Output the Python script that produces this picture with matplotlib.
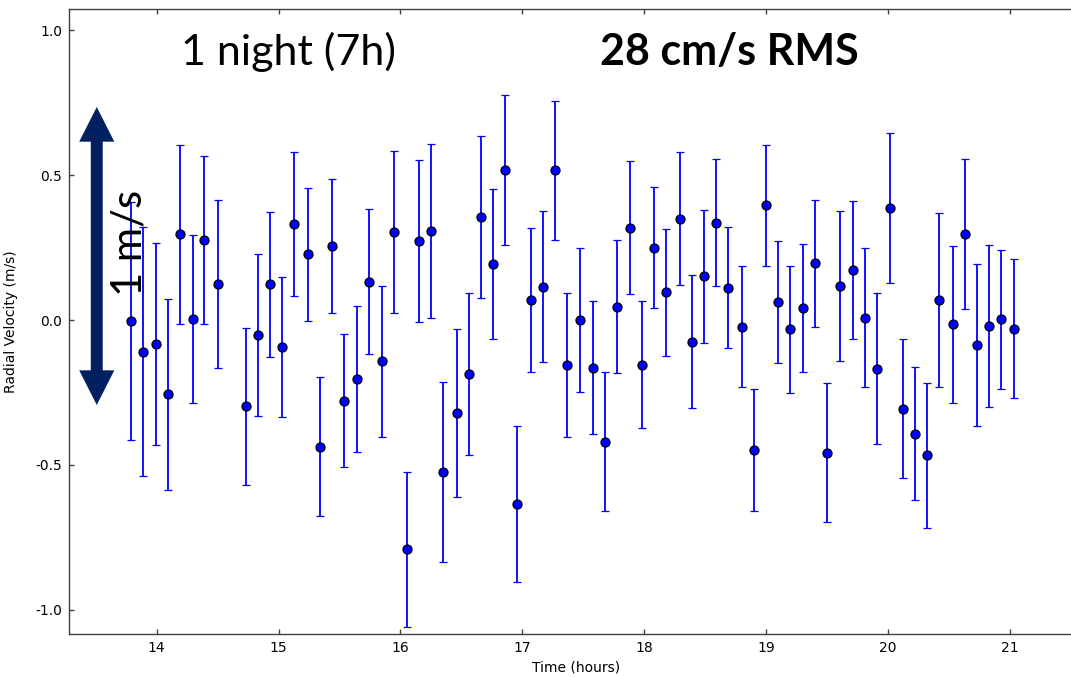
import numpy as np
import matplotlib
matplotlib.use('Agg')
import matplotlib.pyplot as plt
from matplotlib.patches import Polygon

#######################################################################################################
# radial velocity time series over one night
#######################################################################################################

time_h = [13.79, 13.89, 13.99, 14.09, 14.19, 14.30, 14.39, 14.50,
          14.73, 14.83, 14.93, 15.03, 15.13, 15.24, 15.34, 15.44, 15.54, 15.64, 15.74, 15.85,
          15.95, 16.05, 16.15, 16.25, 16.35, 16.46, 16.56, 16.66, 16.76, 16.86, 16.96, 17.07,
          17.17, 17.27, 17.37, 17.47, 17.58, 17.68, 17.78, 17.88, 17.98, 18.08, 18.18, 18.29,
          18.39, 18.49, 18.59, 18.69, 18.80, 18.90, 19.00, 19.10, 19.20, 19.30, 19.40, 19.50,
          19.61, 19.71, 19.81, 19.91, 20.02, 20.12, 20.22, 20.32, 20.42, 20.53, 20.63, 20.73,
          20.83, 20.93, 21.03]

rv = [-0.003, -0.109, -0.083, -0.256, 0.296, 0.002, 0.276, 0.123,
      -0.298, -0.052, 0.123, -0.093, 0.331, 0.227, -0.437, 0.256, -0.279, -0.204, 0.132, -0.143,
      0.303, -0.792, 0.272, 0.308, -0.526, -0.322, -0.187, 0.357, 0.193, 0.518, -0.635, 0.069,
      0.115, 0.518, -0.155, 0.000, -0.165, -0.420, 0.046, 0.319, -0.154, 0.250, 0.096, 0.350,
      -0.075, 0.151, 0.336, 0.111, -0.023, -0.448, 0.397, 0.062, -0.032, 0.041, 0.196, -0.458,
      0.117, 0.173, 0.008, -0.168, 0.388, -0.307, -0.392, -0.467, 0.068, -0.015, 0.298, -0.085,
      -0.020, 0.003, -0.030]

rv_err = [0.411, 0.429, 0.349, 0.330, 0.309, 0.290, 0.290, 0.290,
          0.270, 0.280, 0.250, 0.241, 0.249, 0.230, 0.239, 0.230, 0.230, 0.251, 0.250, 0.260,
          0.280, 0.269, 0.280, 0.300, 0.311, 0.290, 0.280, 0.280, 0.260, 0.259, 0.270, 0.250,
          0.261, 0.240, 0.250, 0.250, 0.230, 0.240, 0.230, 0.230, 0.219, 0.209, 0.219, 0.230,
          0.230, 0.230, 0.219, 0.209, 0.208, 0.210, 0.209, 0.210, 0.220, 0.220, 0.219, 0.240,
          0.260, 0.239, 0.240, 0.260, 0.259, 0.240, 0.230, 0.250, 0.300, 0.270, 0.259, 0.280,
          0.280, 0.240, 0.240]

x_ticks = [14, 15, 16, 17, 18, 19, 20, 21]
y_ticks = [-1.0, -0.5, 0.0, 0.5, 1.0]
y_tick_labels = ['-1.0', '-0.5', '0.0', '0.5', '1.0']

fig = plt.figure(figsize=(10.71, 6.77), dpi=100)
# right spine sits just outside the canvas
ax = fig.add_axes([0.0644, 0.0635, 0.9468, 0.9232])

ax.errorbar(time_h, rv, yerr=rv_err, fmt='o', color='#0000ff', ecolor='#0000ff',
            elinewidth=1.3, capsize=3, capthick=1.3, markersize=6.5,
            markerfacecolor='#0000ff', markeredgecolor='k', markeredgewidth=0.9)

ax.set_xlim(13.28, 21.6)
ax.set_ylim(-1.084, 1.074)
ax.set_xticks(x_ticks)
ax.set_yticks(y_ticks)
ax.set_yticklabels(y_tick_labels)
ax.tick_params(direction='in', length=3.5, width=1, colors='#404040', labelcolor='k',
               labelsize=10, top=True, right=True, pad=5)
for sp in ax.spines.values():
    sp.set_color('#404040')
    sp.set_linewidth(1.0)

ax.set_xlabel('Time (hours)', fontsize=10, labelpad=4)
ax.set_ylabel('Radial Velocity (m/s)', fontsize=10)
ax.yaxis.set_label_coords(-0.0503, 0.5)

# titles over the series
ax.text(0.2165, 0.9104, '1 night (7h)', transform=ax.transAxes, ha='center', va='baseline',
        fontsize=31, family='Lato')
ax.text(0.6509, 0.9104, '28 cm/s RMS', transform=ax.transAxes, ha='center', va='baseline',
        fontsize=31, family='Lato', fontweight='bold')

# 1 m/s scale bar (double arrow)
cx, sw, hw = 0.0274, 0.0059, 0.0173
y_top, y_top_base, y_bot_base, y_bot = 0.8432, 0.7877, 0.4219, 0.3664
arrow_pts = [(cx, y_top), (cx + hw, y_top_base), (cx + sw, y_top_base),
             (cx + sw, y_bot_base), (cx + hw, y_bot_base), (cx, y_bot),
             (cx - hw, y_bot_base), (cx - sw, y_bot_base), (cx - sw, y_top_base),
             (cx - hw, y_top_base)]
ax.add_patch(Polygon(arrow_pts, closed=True, transform=ax.transAxes,
                     facecolor='#002060', edgecolor='none', zorder=5, clip_on=False))
ax.text(0.0717, 0.6264, '1 m/s', transform=ax.transAxes, rotation=90, rotation_mode='anchor',
        ha='center', va='baseline', fontsize=30, family='Lato', zorder=6)

plt.savefig('out.png', dpi=100)
